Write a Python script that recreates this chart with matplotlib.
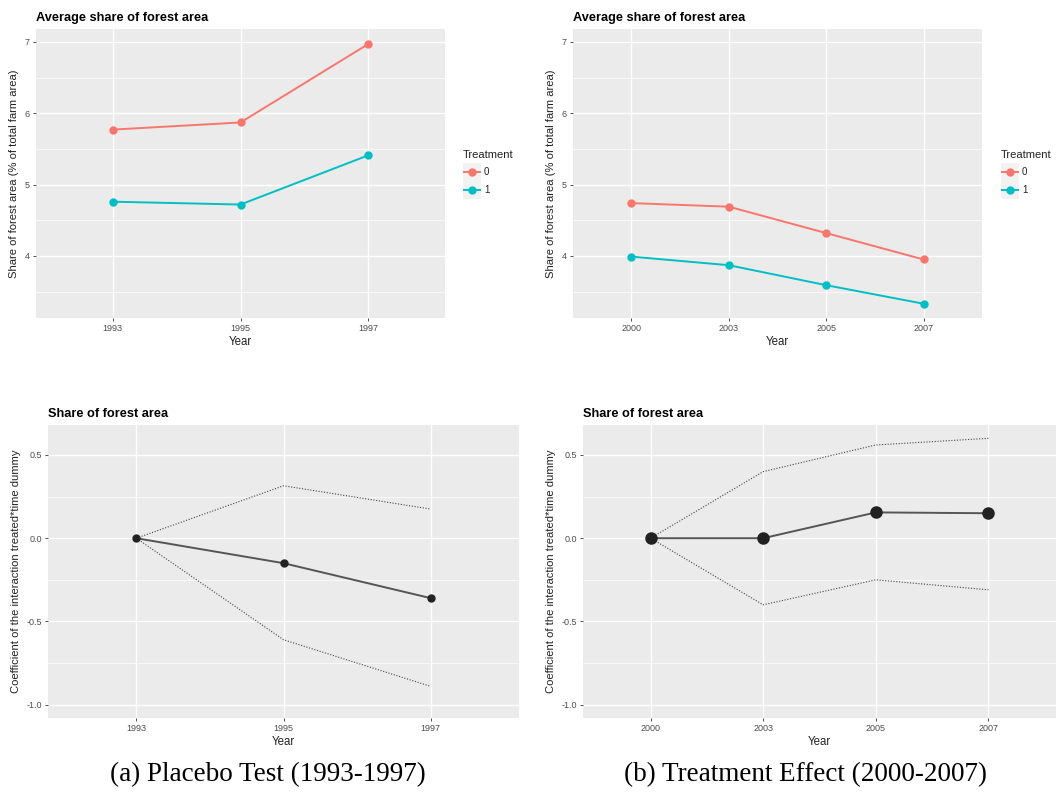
import numpy as np
import matplotlib
matplotlib.use("Agg")
import matplotlib.pyplot as plt
from matplotlib.lines import Line2D
from matplotlib.patches import Rectangle

# data
years_a = ["1993", "1995", "1997"]
share0_a = [5.77, 5.87, 6.97]
share1_a = [4.76, 4.72, 5.41]

years_b = ["2000", "2003", "2005", "2007"]
share0_b = [4.74, 4.69, 4.32, 3.95]
share1_b = [3.99, 3.87, 3.59, 3.33]

coef_a = [0.0, -0.15, -0.36]
upper_a = [0.0, 0.315, 0.175]
lower_a = [0.0, -0.61, -0.89]

coef_b = [0.0, 0.0, 0.155, 0.15]
upper_b = [0.0, 0.40, 0.56, 0.60]
lower_b = [0.0, -0.40, -0.25, -0.31]

treat_labels = ["0", "1"]
treat_colors = ["#F8766D", "#00BFC4"]

W, H = 1058, 797
plt.rcParams["font.family"] = ["Liberation Sans", "DejaVu Sans"]
plt.rcParams["axes.unicode_minus"] = False
fig = plt.figure(figsize=(W / 100, H / 100), dpi=100)


def px_axes(l, t, r, b):
    return fig.add_axes([l / W, 1 - b / H, (r - l) / W, (b - t) / H])


def gg_style(ax, n, ylim, yticks, yminor):
    ax.set_facecolor("#EBEBEB")
    ax.set_xlim(0.4, n + 0.6)
    ax.set_ylim(*ylim)
    ax.set_yticks(yticks)
    ax.set_yticks(yminor, minor=True)
    for s in ax.spines.values():
        s.set_visible(False)
    ax.grid(True, which="major", color="white", lw=1.0)
    ax.grid(True, which="minor", axis="y", color="white", lw=0.5)
    ax.set_axisbelow(True)
    ax.tick_params(axis="both", which="major", length=2.5, width=0.6,
                   color="#333333", labelsize=6.5, labelcolor="#4D4D4D", pad=2)
    ax.tick_params(axis="both", which="minor", length=0)
    ax.set_xlabel("Year", fontsize=8.3, color="#222222", labelpad=2)


def add_legend(left, top):
    # ggplot-like legend: title and grey key boxes, in figure pixels
    fig.text(left / W, 1 - top / H, "Treatment", fontsize=8, va="center",
             ha="left", color="#222222")
    for i, (lab, c) in enumerate(zip(treat_labels, treat_colors)):
        yc = top + 17 + i * 18
        fig.patches.append(Rectangle((left / W, 1 - (yc + 9) / H), 18 / W,
                                     18 / H, transform=fig.transFigure,
                                     facecolor="#F2F2F2", edgecolor="none"))
        fig.lines.append(Line2D([(left + 1) / W, (left + 17) / W],
                                [1 - yc / H, 1 - yc / H],
                                transform=fig.transFigure, color=c, lw=1.4))
        fig.lines.append(Line2D([(left + 9) / W], [1 - yc / H],
                                transform=fig.transFigure, color=c,
                                marker="o", ms=5))
        fig.text((left + 21) / W, 1 - yc / H, lab, fontsize=7, va="center",
                 ha="left", color="#222222")


def share_panel(ax, years, s0, s1):
    x = np.arange(1, len(years) + 1)
    for s, c in zip([s0, s1], treat_colors):
        ax.plot(x, s, color=c, marker="o", ms=5, lw=1.4)
    gg_style(ax, len(years), (3.13, 7.18), [4, 5, 6, 7], [3.5, 4.5, 5.5, 6.5])
    ax.set_xticks(x, years)
    ax.set_ylabel("Share of forest area (% of total farm area)", fontsize=8.1,
                  color="#222222", labelpad=4)
    ax.set_title("Average share of forest area", loc="left", fontsize=9.2,
                 fontweight="bold", pad=6)


def coef_panel(ax, years, coef, up, lo, ms):
    x = np.arange(1, len(years) + 1)
    ax.plot(x, up, color="#444444", lw=0.8, ls=(0, (1, 1.5)))
    ax.plot(x, lo, color="#444444", lw=0.8, ls=(0, (1, 1.5)))
    ax.plot(x, coef, color="#555555", lw=1.4, marker="o", ms=ms,
            mfc="#222222", mec="#222222")
    gg_style(ax, len(years), (-1.08, 0.68), [-1.0, -0.5, 0.0, 0.5],
             [-0.75, -0.25, 0.25])
    ax.set_xticks(x, years)
    ax.set_ylabel("Coefficient of the interaction treated*time dummy",
                  fontsize=8.1, color="#222222", labelpad=4)
    ax.set_title("Share of forest area", loc="left", fontsize=9.2,
                 fontweight="bold", pad=6)


share_panel(px_axes(36, 29, 445, 318), years_a, share0_a, share1_a)
add_legend(463, 155)
share_panel(px_axes(573, 29, 982, 318), years_b, share0_b, share1_b)
add_legend(1001, 155)

coef_panel(px_axes(48, 425, 519, 718), years_a, coef_a, upper_a, lower_a, 5)
coef_panel(px_axes(583, 425, 1056, 718), years_b, coef_b, upper_b, lower_b, 8)

# captions
fig.text(268 / W, 1 - 775 / H, "(a) Placebo Test (1993-1997)",
         family="Liberation Serif", fontsize=19.5, ha="center", va="center")
fig.text(806 / W, 1 - 775 / H, "(b) Treatment Effect (2000-2007)",
         family="Liberation Serif", fontsize=19.5, ha="center", va="center")

fig.savefig("out.png", dpi=100)
